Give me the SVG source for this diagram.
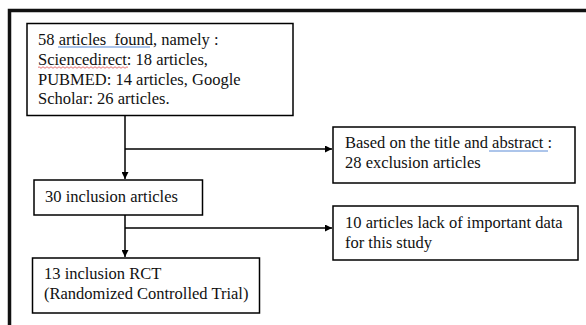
<svg xmlns="http://www.w3.org/2000/svg" width="586" height="325" viewBox="0 0 586 325">
<defs>
<style>
.box{fill:#fff;stroke:#000;stroke-width:1.5}
.t{font-family:"Liberation Serif","Times New Roman",serif;font-size:16.5px;fill:#111;white-space:pre}
.c{fill:none;stroke:#000;stroke-width:1.5}
</style>
<marker id="ah" viewBox="0 0 10 10" refX="10" refY="5" markerWidth="7" markerHeight="7" markerUnits="userSpaceOnUse" orient="auto">
<path d="M0,0 L10,5 L0,10 z" fill="#000"/>
</marker>
</defs>
<rect width="586" height="325" fill="#fff"/>
<g id="frame">
<path d="M9.5,325 V10.5 H586" fill="none" stroke="#111" stroke-width="3.5"/>
</g>
<g id="connectors">
<path class="c" d="M125,116 V179" marker-end="url(#ah)"/>
<path class="c" d="M125,149 H332" marker-end="url(#ah)"/>
<path class="c" d="M125,215 V257" marker-end="url(#ah)"/>
<path class="c" d="M125,228 H332" marker-end="url(#ah)"/>
</g>
<g id="n1">
<rect class="box" x="27" y="23.5" width="266" height="92"/>
<text class="t" x="38" y="45" xml:space="preserve">58 articles  found, namely :</text>
<text class="t" x="38" y="65">Sciencedirect: 18 articles,</text>
<text class="t" x="38" y="84.5">PUBMED: 14 articles, Google</text>
<text class="t" x="38" y="104">Scholar: 26 articles.</text>
<path d="M58,47 H150" stroke="#5b8bd6" stroke-width="1"/>
<path d="M38,67.5 q1,-1.5 2,0 t2,0 t2,0 t2,0 t2,0 t2,0 t2,0 t2,0 t2,0 t2,0 t2,0 t2,0 t2,0 t2,0 t2,0 t2,0 t2,0 t2,0 t2,0 t2,0 t2,0 t2,0 t2,0 t2,0 t2,0 t2,0 t2,0 t2,0 t2,0 t2,0 t2,0 t2,0 t2,0 t2,0 t2,0 t2,0 t2,0 t2,0 t2,0 t2,0 t2,0 t2,0 t2,0 t2,0 t2,0" fill="none" stroke="#e05050" stroke-width="0.8"/>
</g>
<g id="n2">
<rect class="box" x="333" y="127" width="242" height="56"/>
<text class="t" x="345" y="148">Based on the title and abstract :</text>
<text class="t" x="345" y="168">28 exclusion articles</text>
<path d="M489,151 H548" stroke="#5b8bd6" stroke-width="1"/>
</g>
<g id="n3">
<rect class="box" x="34" y="180" width="168.5" height="35"/>
<text class="t" x="45" y="202">30 inclusion articles</text>
</g>
<g id="n4">
<rect class="box" x="333" y="206" width="245" height="54"/>
<text class="t" x="345" y="228">10 articles lack of important data</text>
<text class="t" x="345" y="248">for this study</text>
</g>
<g id="n5">
<rect class="box" x="32.5" y="258" width="227" height="55"/>
<text class="t" x="44" y="279">13 inclusion RCT</text>
<text class="t" x="44" y="299">(Randomized Controlled Trial)</text>
</g>
</svg>
